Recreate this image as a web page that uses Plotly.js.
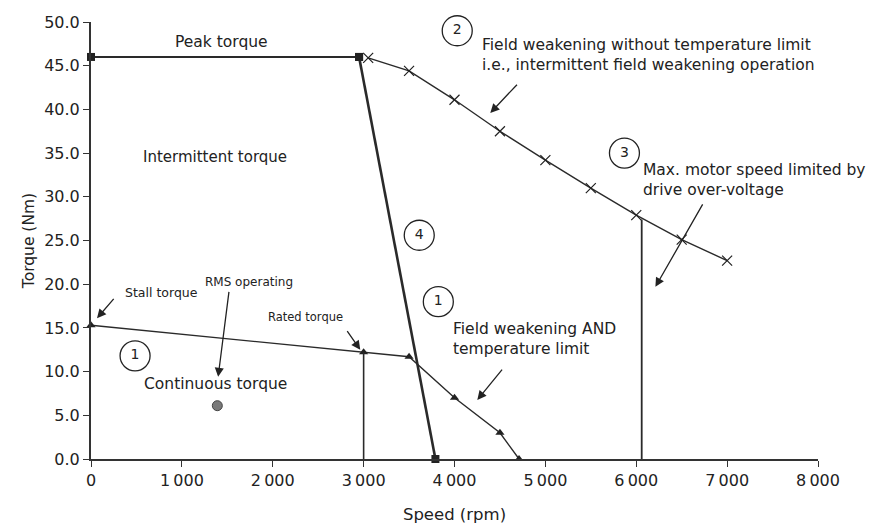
<!DOCTYPE html>
<html><head><meta charset="utf-8">
<script src="https://cdn.plot.ly/plotly-3.0.1.min.js"></script>
<style>html,body{margin:0;padding:0;background:#fff}#c{width:871px;height:525px}</style>
</head><body><div id="c"></div>
<script>
// Peak torque line
const peakX = [0, 2950];
const peakY = [46, 46];
// Peak-to-zero drop line (4)
const dropX = [2950, 3790];
const dropY = [46, 0];
// Intermittent field weakening (x markers)
const fwX = [3050, 3500, 4000, 4500, 5000, 5500, 6000, 6500, 7000];
const fwY = [45.9, 44.4, 41.1, 37.5, 34.2, 31.0, 27.9, 25.1, 22.7];
// Continuous torque + field weakening with temperature limit (triangles)
const contX = [0, 3000, 3500, 4000, 4500, 4710];
const contY = [15.3, 12.2, 11.7, 7.0, 3.0, 0];
// Vertical limit lines
const ratedVX = [3000, 3000];
const ratedVY = [12.2, 0];
const maxVX = [6060, 6060];
const maxVY = [27.4, 0];
// RMS operating point
const rmsX = [1390];
const rmsY = [6.1];
// Numbered circles
const circX = [4030, 5870, 3612, 3822, 485];
const circY = [49.0, 35.0, 25.6, 18.0, 11.8];
const circT = ["2", "3", "4", "1", "1"];
// Axis ticks
const xTickVals = [0, 1000, 2000, 3000, 4000, 5000, 6000, 7000, 8000];
const xTickText = ["0", "1\u2009000", "2\u2009000", "3\u2009000", "4\u2009000", "5\u2009000", "6\u2009000", "7\u2009000", "8\u2009000"];
const yTickVals = [0, 5, 10, 15, 20, 25, 30, 35, 40, 45, 50];

const lc = '#2a2a2a';
const FAM = 'DejaVu Sans, Verdana, sans-serif';
const traces = [
  {x: peakX, y: peakY, mode: 'lines+markers', line: {color: lc, width: 2}, marker: {symbol: 'square', size: 8, color: '#222'}, cliponaxis: false},
  {x: dropX, y: dropY, mode: 'lines+markers', line: {color: lc, width: 2.6}, marker: {symbol: 'square', size: 8, color: '#222'}, cliponaxis: false},
  {x: fwX, y: fwY, mode: 'lines+markers', line: {color: lc, width: 1.4}, marker: {symbol: 'x-thin-open', size: 10, color: '#222', line: {width: 1.2, color: '#222'}}, cliponaxis: false},
  {x: contX, y: contY, mode: 'lines+markers', line: {color: lc, width: 1.4}, marker: {symbol: 'triangle-up', size: 8, color: '#222'}, cliponaxis: false},
  {x: ratedVX, y: ratedVY, mode: 'lines', line: {color: lc, width: 1.6}},
  {x: maxVX, y: maxVY, mode: 'lines', line: {color: lc, width: 1.8}},
  {x: rmsX, y: rmsY, mode: 'markers', marker: {symbol: 'circle', size: 10, color: '#7a7a7a', line: {color: '#444', width: 1}}},
  {x: circX, y: circY, text: circT, mode: 'markers+text', textposition: 'middle center',
   textfont: {family: FAM, size: 14, color: '#222'},
   marker: {symbol: 'circle-open', size: 30, color: '#222', line: {width: 1.3, color: '#222'}}, cliponaxis: false}
];

const f = (s) => ({family: FAM, size: s, color: '#222'});
const txt = (x, y, t, s, xa, ya) => ({x, y, xref: 'x', yref: 'y', text: t, showarrow: false, font: f(s), xanchor: xa || 'center', yanchor: ya || 'middle', align: 'left'});
const arr = (x, y, ax, ay) => ({x, y, ax, ay, xref: 'x', yref: 'y', axref: 'x', ayref: 'y', text: '', showarrow: true, arrowhead: 2, arrowsize: 1.4, arrowwidth: 1.3, arrowcolor: '#222'});

const annotations = [
  txt(1432, 47.7, 'Peak torque', 15.5),
  txt(1366, 34.6, 'Intermittent torque', 15),
  txt(4284, 46.2, 'Field weakening without temperature limit<br>i.e., intermittent field weakening operation', 15.5, 'left'),
  txt(6057, 31.9, 'Max. motor speed limited by<br>drive over-voltage', 15.5, 'left'),
  txt(3965, 13.7, 'Field weakening AND<br>temperature limit', 15.5, 'left'),
  txt(771, 19.0, 'Stall torque', 12.5),
  txt(1740, 20.25, 'RMS operating', 12),
  txt(2357, 16.2, 'Rated torque', 11.5),
  txt(1366, 8.6, 'Continuous torque', 15.5),
  arr(4394, 39.6, 4703, 43.0),
  arr(6211, 19.7, 6740, 29.3),
  arr(4251, 6.75, 4537, 10.4),
  arr(66, 16.1, 264, 18.5),
  arr(1399, 9.4, 1520, 19.3),
  arr(2963, 12.5, 2808, 14.8)
];

const layout = {
  width: 871, height: 525,
  margin: {l: 91, r: 53, t: 22, b: 66},
  paper_bgcolor: '#fff', plot_bgcolor: '#fff',
  showlegend: false,
  font: f(15),
  xaxis: {range: [0, 8000], tickvals: xTickVals, ticktext: xTickText, showgrid: false, zeroline: false,
    showline: true, linecolor: '#333', linewidth: 2, ticks: 'outside', ticklen: 6, tickcolor: '#333',
    tickfont: f(16), title: {text: 'Speed (rpm)', font: f(16.5), standoff: 19}},
  yaxis: {range: [0, 50], tickvals: yTickVals, tickformat: '.1f', showgrid: false, zeroline: false,
    showline: true, linecolor: '#333', linewidth: 2, ticks: 'outside', ticklen: 6, tickcolor: '#333',
    tickfont: f(16), title: {text: 'Torque (Nm)', font: f(15.5), standoff: 6}},
  annotations
};
Plotly.newPlot('c', traces, layout, {displayModeBar: false, staticPlot: true});
</script></body></html>
